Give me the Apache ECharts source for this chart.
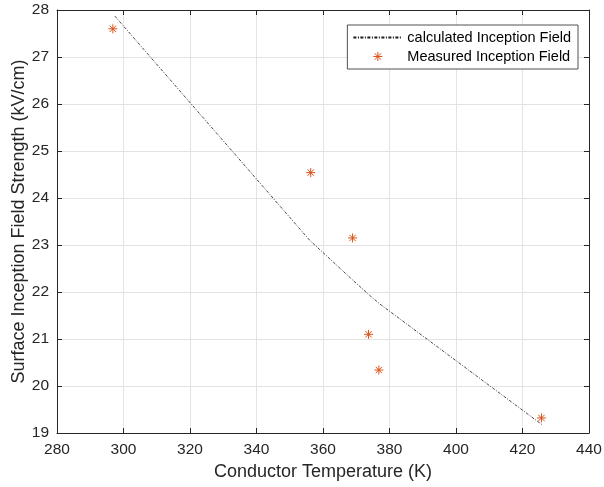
<!DOCTYPE html>
<html><head><meta charset="utf-8">
<script src="https://cdn.jsdelivr.net/npm/echarts@6/dist/echarts.min.js"></script>
<style>html,body{margin:0;padding:0;background:#fff}#c{width:604px;height:487px}</style>
</head><body><div id="c"></div>
<script>
var calcTemp = [297.4, 356, 369, 374, 377, 426];
var calcField = [27.87, 23.1, 22.25, 21.93, 21.75, 19.17];
var measTemp = [296.8, 356.3, 368.9, 373.7, 376.8, 425.7];
var measField = [27.6, 24.54, 23.15, 21.1, 20.34, 19.32];
var xTicks = [280, 300, 320, 340, 360, 380, 400, 420, 440];
var yTicks = [19, 20, 21, 22, 23, 24, 25, 26, 27, 28];

var font = 'Liberation Sans, Arial, Helvetica, sans-serif';
var axCol = '#262626';
var chart = echarts.init(document.getElementById('c'));
var star = 'path://M0,-10L0,10M-10,0L10,0M-7.07,-7.07L7.07,7.07M-7.07,7.07L7.07,-7.07';
function mainAxis(isX, min, max, interval, name) {
  return {
    type: 'value', min: min, max: max, interval: interval,
    position: isX ? 'bottom' : 'left',
    name: name, nameLocation: 'middle', nameGap: isX ? 30 : 29,
    nameMoveOverlap: isX ? true : false,
    nameTextStyle: {fontFamily: font, fontSize: 18, color: axCol},
    axisLine: {show: true, lineStyle: {color: axCol, width: 1}},
    axisTick: {show: true, inside: true, length: 5, lineStyle: {color: axCol}},
    axisLabel: {fontFamily: font, fontSize: 15.5, color: axCol, margin: isX ? 9 : 8},
    splitLine: {show: true, lineStyle: {color: '#e3e3e3', width: 1}}
  };
}
function sideAxis(isX, min, max, interval) {
  return {
    type: 'value', min: min, max: max, interval: interval,
    position: isX ? 'top' : 'right',
    axisLine: {show: true, lineStyle: {color: axCol, width: 1}},
    axisTick: {show: true, inside: true, length: 5, lineStyle: {color: axCol}},
    axisLabel: {show: false}, splitLine: {show: false}
  };
}
chart.setOption({
  animation: false,
  backgroundColor: '#fff',
  grid: {left: 57, right: 15, top: 10, bottom: 54, containLabel: false, outerBoundsMode: 'none'},
  xAxis: [mainAxis(true, xTicks[0], xTicks[xTicks.length-1], 20, 'Conductor Temperature (K)'),
          sideAxis(true, xTicks[0], xTicks[xTicks.length-1], 20)],
  yAxis: [mainAxis(false, yTicks[0], yTicks[yTicks.length-1], 1, 'Surface Inception Field Strength (kV/cm)'),
          sideAxis(false, yTicks[0], yTicks[yTicks.length-1], 1)],
  legend: {
    orient: 'vertical', right: 26, top: 25,
    backgroundColor: '#fff', borderColor: axCol, borderWidth: 0.8, borderRadius: 0,
    padding: [5, 7, 5, 5], itemGap: 4, itemWidth: 49, itemHeight: 9,
    textStyle: {fontFamily: font, fontSize: 14.5, color: '#000'},
    data: [
      {name: 'calculated Inception Field', itemStyle: {opacity: 0}},
      {name: 'Measured Inception Field', icon: star, itemStyle: {color: 'none', borderColor: '#D95319', borderWidth: 1}}
    ]
  },
  series: [
    {
      name: 'calculated Inception Field', type: 'line', showSymbol: false, symbol: 'none',
      data: calcTemp.map(function(t, i){ return [t, calcField[i]]; }),
      lineStyle: {color: '#1a1a1a', width: 0.8, type: [3, 1.5, 1, 1.5]},
      itemStyle: {color: '#1a1a1a'}
    },
    {
      name: 'Measured Inception Field', type: 'scatter', symbol: star, symbolSize: 9,
      data: measTemp.map(function(t, i){ return [t, measField[i]]; }),
      itemStyle: {color: 'none', borderColor: '#D95319', borderWidth: 1, opacity: 1}
    }
  ]
});
</script></body></html>
